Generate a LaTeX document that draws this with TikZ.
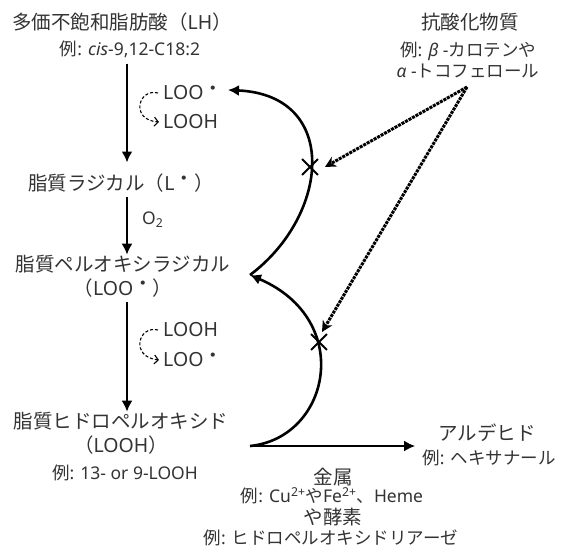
\documentclass[tikz,border=0pt]{standalone}
\usepackage{fontspec}
\setmainfont{Noto Sans}
\newfontfamily\jp{Noto Sans CJK JP}
\usetikzlibrary{arrows.meta,shapes.misc}
\newcommand{\radot}{\raisebox{0.45ex}{\jp ・}}

\begin{document}
\begin{tikzpicture}[x=1pt,y=1pt,
  main/.style={font=\fontsize{19.5}{24}\selectfont,align=center,inner sep=1pt,text=black!80},
  sub/.style={font=\fontsize{17.5}{21}\selectfont,align=center,inner sep=1pt,text=black!80},
  flow/.style={line width=2.6pt,-{Latex[length=11pt,width=11pt]}},
  turn/.style={densely dashed,line width=1.1pt,-{Straight Barb[length=4pt,width=9pt]}},
  block/.style={densely dotted,line width=3pt,-{Stealth[length=11pt,width=11pt]}},
  stop/.style={cross out,draw,line width=1.8pt,minimum size=14pt,inner sep=0pt}]
  \useasboundingbox (0,0) rectangle (561,550);
  % left column
  \node[main] at (122,528) (lh) {{\jp 多価不飽和脂肪酸（}LH{\jp ）}};
  \node[sub] at (130,501) (lhex) {{\jp 例}: \textit{cis}-9,12-C18:2};
  \node[main] at (121,367) (lrad) {{\jp 脂質ラジカル（}L{\radot\jp ）}};
  \node[main] at (123,274) (lpr) {{\jp 脂質ペルオキシラジカル}\\{\jp （}LOO{\radot\jp ）}};
  \node[main] at (121,117) (lpo) {{\jp 脂質ヒドロペルオキシド}\\{\jp （}LOOH{\jp ）}};
  \node[sub] at (125,77) (lpoex) {{\jp 例}: 13- or 9-LOOH};
  \node[sub,anchor=west] at (141,330) (o2) {O\textsubscript{2}};
  \node[main,anchor=west] at (162,457) (a1) {LOO\radot};
  \node[main,anchor=west] at (162,428) (a2) {LOOH};
  \node[main,anchor=west] at (162,220) (b1) {LOOH};
  \node[main,anchor=west] at (162,190) (b2) {LOO\radot};
  % right side
  \node[main] at (470,528) (anti) {\jp 抗酸化物質};
  \node[sub] at (468,490) (antiex) {{\jp 例}: \textit{β} -{\jp カロテンや}\\\textit{α} -{\jp トコフェロール}};
  \node[main] at (487,117) (ald) {\jp アルデヒド};
  \node[sub] at (489,92) (aldex) {{\jp 例}: {\jp ヘキサナール}};
  \node[main] at (333,73) (metal) {\jp 金属};
  \node[sub] at (332,54) (metalex) {{\jp 例}: Cu\textsuperscript{2+}{\jp や}Fe\textsuperscript{2+}{\jp 、}Heme};
  \node[main] at (333,33) (enz) {\jp や酵素};
  \node[sub] at (331,12.5) (enzex) {{\jp 例}: {\jp ヒドロペルオキシドリアーゼ}};
  \coordinate (axis) at (127,0);
  \coordinate (split) at (250,104);
  \coordinate (cusp) at (250,275);
  \coordinate (back) at (228,460);
  \coordinate (src) at (467,463);
  \draw[flow] (lhex.south -| axis) ++(0,-5) -- ([yshift=10pt]lrad.north -| axis);
  \draw[flow] ([yshift=-4pt]lrad.south -| axis) -- ([yshift=-1pt]lpr.north -| axis);
  \draw[flow] ([yshift=-4pt]lpr.south -| axis) -- ([yshift=-1pt]lpo.north -| axis);
  \draw[turn] ([xshift=-4pt]a1.west) .. controls (138,462) and (130,430) .. ([xshift=-3pt]a2.west);
  \draw[turn] ([xshift=-4pt]b1.west) .. controls (138,225) and (130,193) .. ([xshift=-3pt]b2.west);
  \draw[flow] (split) -- ([xshift=-22pt]ald.west |- split);
  \draw[flow] (split) .. controls (330,112) and (355,230) .. (cusp);
  \draw[flow] (cusp) .. controls (330,335) and (340,455) .. (back);
  \node[stop] at (310,383) (x1) {};
  \node[stop] at (319,208) (x2) {};
  \draw[block] (src) -- ([xshift=7pt]x1.east);
  \draw[block] (src) -- ([shift={(3pt,10pt)}]x2.center);
\end{tikzpicture}
\end{document}
